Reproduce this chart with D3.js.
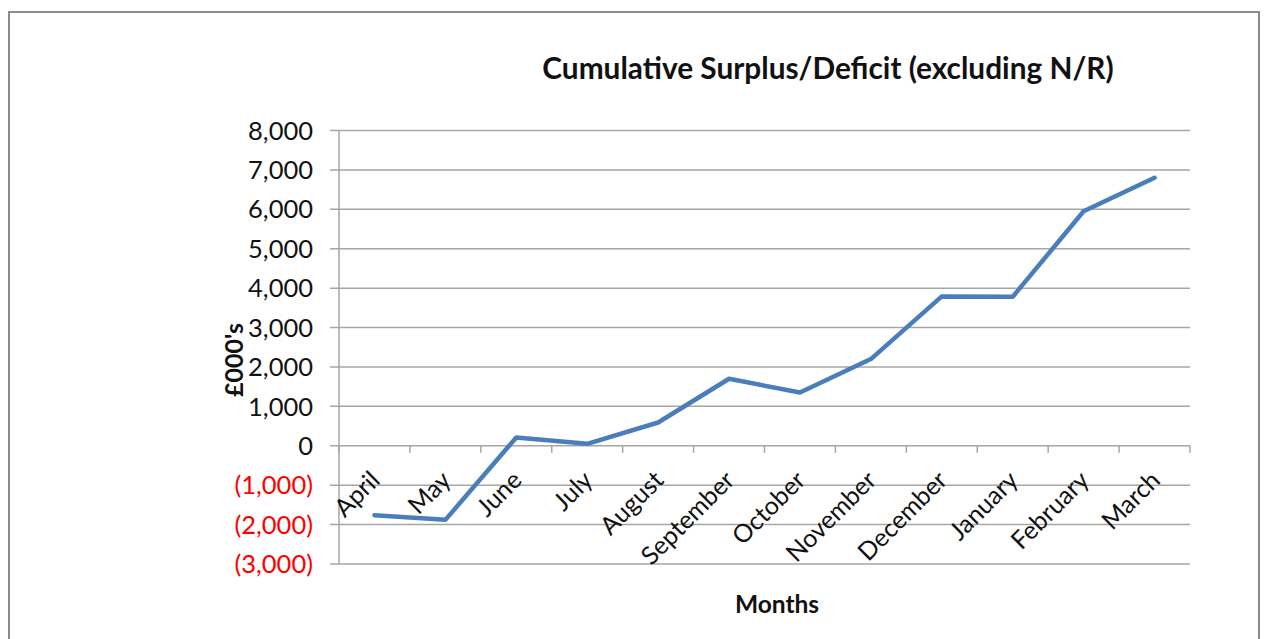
<!DOCTYPE html>
<html>
<head>
<meta charset="utf-8">
<script src="https://cdn.jsdelivr.net/npm/d3@7"></script>
<style>
  body { margin: 0; background: #fff; }
  svg { display: block; font-family: Lato, "Open Sans", sans-serif; }
</style>
</head>
<body>
<svg id="chart" width="1264" height="639"></svg>
<script>
const months = ["April","May","June","July","August","September","October","November","December","January","February","March"];
const values = [-1760, -1880, 210, 50, 590, 1700, 1350, 2200, 3790, 3780, 5950, 6800];
const yTicks = [-3000, -2000, -1000, 0, 1000, 2000, 3000, 4000, 5000, 6000, 7000, 8000];
const title = "Cumulative Surplus/Deficit (excluding N/R)";
const yTitle = "£000's";
const xTitle = "Months";

const svg = d3.select("#chart");
const m = { left: 339, right: 1190, top: 130.5, bottom: 564 };

// outer border
svg.append("rect").attr("x", 9).attr("y", 12).attr("width", 1250).attr("height", 640)
  .attr("fill", "#fff").attr("stroke", "#8c8c8c").attr("stroke-width", 2);

const x = d3.scaleBand().domain(months).range([m.left, m.right]).paddingInner(0).paddingOuter(0);
const y = d3.scaleLinear().domain([-3000, 8000]).range([m.bottom, m.top]);

const grid = "#a6a6a6";
const ink = "#111";

// gridlines
svg.append("g").selectAll("line").data(yTicks).join("line")
  .attr("x1", m.left - 9).attr("x2", m.right)
  .attr("y1", d => y(d)).attr("y2", d => y(d))
  .attr("stroke", grid).attr("stroke-width", 1.5);

// y axis line
svg.append("line").attr("x1", m.left).attr("x2", m.left).attr("y1", m.top).attr("y2", m.bottom)
  .attr("stroke", grid).attr("stroke-width", 1.5);

// y tick labels
const fmt = d3.format(",");
svg.append("g").selectAll("text").data(yTicks).join("text")
  .attr("x", 313).attr("y", d => y(d)).attr("dy", "0.36em")
  .attr("text-anchor", "end")
  .attr("font-size", 25.5)
  .attr("fill", d => d < 0 ? "#ff0000" : ink)
  .text(d => d < 0 ? "(" + fmt(-d) + ")" : fmt(d));

// x axis at zero with ticks at band edges
const edges = months.map(d => x(d)).concat([m.right]);
svg.append("g").selectAll("line").data(edges).join("line")
  .attr("x1", d => d).attr("x2", d => d)
  .attr("y1", y(0)).attr("y2", y(0) + 7)
  .attr("stroke", grid).attr("stroke-width", 1.5);

// x labels
svg.append("g").selectAll("text").data(months).join("text")
  .attr("transform", d => `translate(${x(d) + x.bandwidth() / 2 + 7},${y(0) + 36}) rotate(-45)`)
  .attr("text-anchor", "end")
  .attr("font-size", 25)
  .attr("fill", ink)
  .text(d => d);

// line
const line = d3.line().x((d, i) => x(months[i]) + x.bandwidth() / 2).y(d => y(d));
svg.append("path").datum(values)
  .attr("d", line)
  .attr("fill", "none")
  .attr("stroke", "#4a7ebb")
  .attr("stroke-width", 4.5)
  .attr("stroke-linejoin", "round")
  .attr("stroke-linecap", "round");

// titles
svg.append("text").attr("x", 828).attr("y", 79).attr("text-anchor", "middle")
  .attr("font-size", 29.8).attr("font-weight", "bold").attr("fill", ink).text(title);

svg.append("text").attr("transform", `translate(243,360) rotate(-90)`)
  .attr("text-anchor", "middle").attr("font-size", 25).attr("font-weight", "bold")
  .attr("fill", ink).text(yTitle);

svg.append("text").attr("x", 777).attr("y", 613).attr("text-anchor", "middle")
  .attr("font-size", 24.5).attr("font-weight", "bold").attr("fill", ink).text(xTitle);
</script>
</body>
</html>
